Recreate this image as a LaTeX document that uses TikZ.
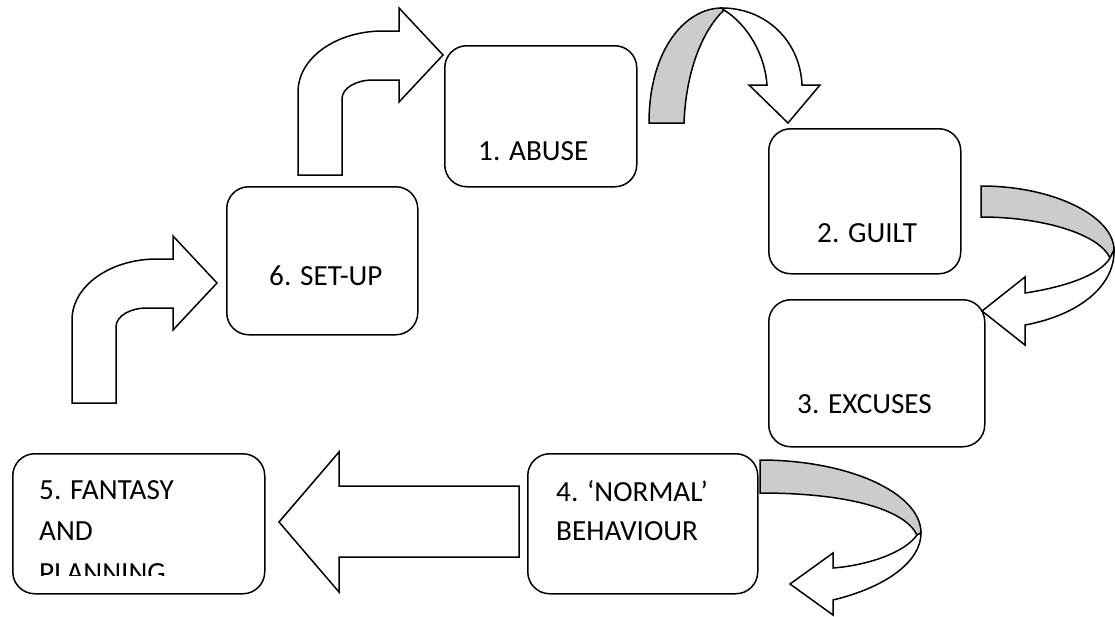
\documentclass[tikz,border=0pt]{standalone}
\usepackage{fontspec}
\setmainfont{Carlito}
\definecolor{ribbongray}{RGB}{204,204,204}
\tikzset{
  stagebox/.style={draw, line width=1.5pt, rounded corners=22pt, anchor=north west, inner sep=0pt},
  stagetext/.style={anchor=base west, inner sep=0pt, font=\fontsize{29.2}{34}\selectfont},
  blockarrow/.style={draw, line width=1.5pt, fill=white},
  ribbonback/.style={draw, line width=1.5pt, fill=ribbongray},
}
\begin{document}
\begin{tikzpicture}[x=1pt, y=-1pt]
\useasboundingbox (0,0) rectangle (1115,616);
% the six stages
\node[stagebox, minimum width=192pt, minimum height=141pt] (abuse) at (444,45) {};
\node[stagebox, minimum width=192pt, minimum height=145pt] (guilt) at (768,128) {};
\node[stagebox, minimum width=216pt, minimum height=147pt] (excuses) at (768,299) {};
\node[stagebox, minimum width=230pt, minimum height=140pt] (normal) at (527,453) {};
\node[stagebox, minimum width=252pt, minimum height=140pt] (fantasy) at (12,453) {};
\node[stagebox, minimum width=191pt, minimum height=148pt] (setup) at (226,186) {};
\node[stagetext] (abusetxt) at (478,160) {1. ABUSE};
\node[stagetext] (guilttxt) at (817,242) {2. GUILT};
\node[stagetext] (excusestxt) at (797,413) {3. EXCUSES};
\node[stagetext] (normaltxta) at (556,501) {4. ‘NORMAL’};
\node[stagetext] (normaltxtb) at (556,540) {BEHAVIOUR};
\begin{scope}
  \clip (12,453) rectangle (264,575);
  \node[stagetext] (fantasytxta) at (39,499) {5. FANTASY};
  \node[stagetext] (fantasytxtb) at (39,540) {AND};
  \node[stagetext] (fantasytxtc) at (39,582) {PLANNING};
\end{scope}
\node[stagetext] (setuptxt) at (269,285) {6. SET-UP};
% 1 -> 2
\draw[ribbonback] (649,123) .. controls (649,50) and (685,8) .. (722,8)
  -- (724,10) .. controls (703,30) and (686,70) .. (684,123) -- cycle;
\draw[blockarrow] (722,8) .. controls (765,8) and (800,40) .. (802,85)
  -- (820,85) -- (788,123) -- (749,85) -- (767,85)
  .. controls (765,55) and (748,25) .. (724,10) -- cycle;
% 2 -> 3
\draw[ribbonback] (981,186) .. controls (1055,186) and (1114,217) .. (1114,250)
  -- (1110,258) .. controls (1100,235) and (1045,217) .. (981,217) -- cycle;
\draw[blockarrow] (1114,250) .. controls (1115,286) and (1079,315) .. (1025,325)
  -- (1025,345) -- (982,311) -- (1025,277) -- (1025,293)
  .. controls (1065,287) and (1100,275) .. (1110,258) -- cycle;
% 3 -> 4
\draw[ribbonback] (760,460) .. controls (849,460) and (921,493) .. (921,533)
  -- (917,535) .. controls (905,510) and (850,493) .. (760,493) -- cycle;
\draw[blockarrow] (921,533) .. controls (921,561) and (887,587) .. (833,600)
  -- (833,615) -- (790,584) -- (833,553) -- (833,568)
  .. controls (870,565) and (905,552) .. (917,535) -- cycle;
% 4 -> 5
\draw[blockarrow] (519,486) -- (339,486) -- (339,452) -- (279,522)
  -- (339,592) -- (339,557) -- (519,557) -- cycle;
% 5 -> 6 and 6 -> 1
\draw[blockarrow] (72,403) -- (72,320) .. controls (72,286) and (110,259) .. (157,259)
  -- (173,259) -- (173,236) -- (217,283) -- (173,330) -- (173,308) -- (147,308)
  .. controls (130,308) and (116,316) .. (116,327) -- (116,403) -- cycle;
\draw[blockarrow, shift={(226,-228)}] (72,403) -- (72,320) .. controls (72,286) and (110,259) .. (157,259)
  -- (173,259) -- (173,236) -- (217,283) -- (173,330) -- (173,308) -- (147,308)
  .. controls (130,308) and (116,316) .. (116,327) -- (116,403) -- cycle;
\end{tikzpicture}
\end{document}
